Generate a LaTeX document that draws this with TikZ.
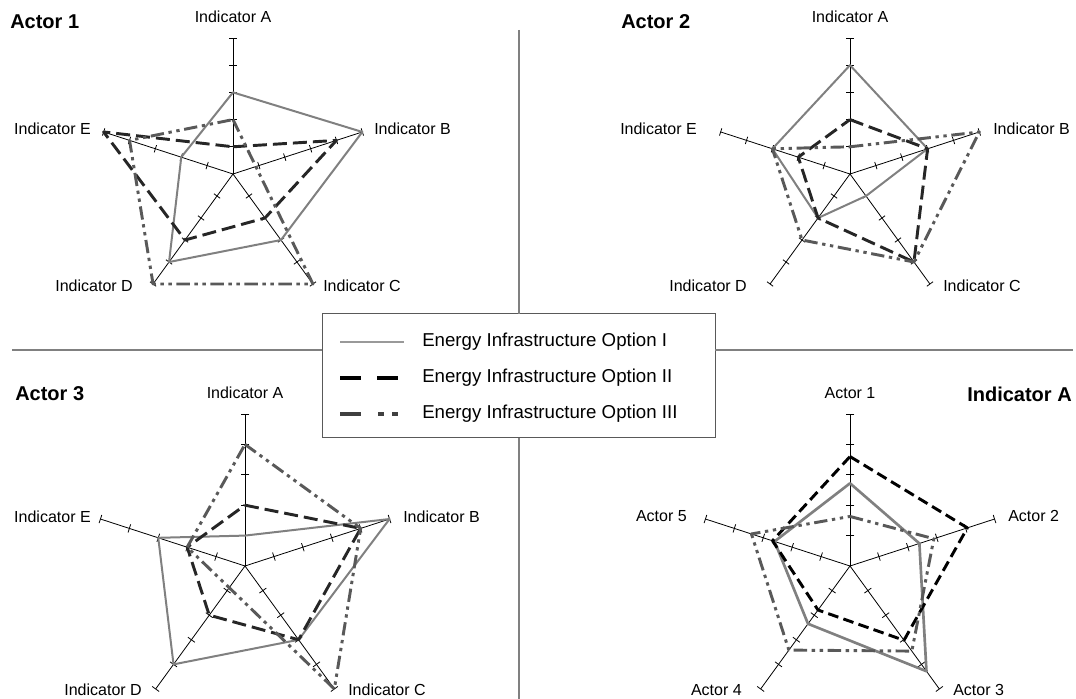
\documentclass[tikz,border=0pt]{standalone}
\usepackage{fontspec}
\setmainfont{Liberation Sans}
\tikzset{%
  % Specifications for style of lines and labels:
      axisLine/.style = {draw=black, line width=0.6pt},
      tickMark/.style = {draw=black, line width=0.6pt},
     optionOne/.style = {draw=black!50, line width=1.5pt, line join=round},
     optionTwo/.style = {draw=black!85, line width=2.2pt, line join=round,
                         dash pattern=on 10.5pt off 4.5pt},
   optionThree/.style = {draw=black!65, line width=2.2pt, line join=round,
                         dash pattern=on 10pt off 3.5pt on 2.5pt off 3.5pt on 2.5pt off 3.5pt},
     axisLabel/.style = {inner sep=0pt, font=\fontsize{12}{14}\selectfont},
    chartTitle/.style = {inner sep=0pt, anchor=west, font=\bfseries\fontsize{15}{18}\selectfont},
       sepLine/.style = {draw=black!50, line width=1.5pt},
     legendBox/.style = {rectangle, draw=black!65, fill=white, line width=0.75pt,
                         inner sep=0pt, outer sep=0pt,
                         minimum width=294.75pt, minimum height=93pt},
    legendText/.style = {inner sep=0pt, anchor=west, font=\fontsize{14}{17}\selectfont},
        legOne/.style = {draw=black!40, line width=2pt},
        legTwo/.style = {draw=black, line width=3pt, dash pattern=on 15.75pt off 12pt},
      legThree/.style = {draw=black!75, line width=3pt,
                         dash pattern=on 15.75pt off 12.75pt on 4.5pt off 6pt on 4.5pt off 6pt},
}

% axes and ticks of one radar chart, in units of one tick
\newcommand{\radarFrame}{%
  \foreach \ang in {90,18,-54,-126,162}{%
    \draw[axisLine] (0,0) -- (\ang:5);
    \foreach \k in {1,...,5}
      \draw[tickMark, shift={(\ang:\k)}, rotate=\ang] (0,-0.14) -- (0,0.14);
  }%
}

\begin{document}
\begin{tikzpicture}[x=0.75pt, y=0.75pt]
\useasboundingbox (0,0) rectangle (1076,699);

% Actor 1
\begin{scope}[shift={(233,525)}, scale=27.2]
  \radarFrame
  \draw[optionOne]   (90:3) -- (18:5) -- (-54:3) -- (-126:4) -- (162:2) -- cycle;
  \draw[optionTwo]   (90:1) -- (18:4) -- (-54:2) -- (-126:3) -- (162:5) -- cycle;
  \draw[optionThree] (90:2) -- (-54:5) -- (-126:5) -- (162:4) -- cycle;
\end{scope}
\node (titleOne) at (10,677)  [chartTitle] {Actor 1};
\node (labOneA)  at (233,682) [axisLabel] {Indicator A};
\node (labOneB)  at (374,570) [axisLabel, anchor=west] {Indicator B};
\node (labOneC)  at (323,413) [axisLabel, anchor=west] {Indicator C};
\node (labOneD)  at (133,413) [axisLabel, anchor=east] {Indicator D};
\node (labOneE)  at (91,570)  [axisLabel, anchor=east] {Indicator E};

% Actor 2
\begin{scope}[shift={(850,525)}, scale=27.2]
  \radarFrame
  \draw[optionOne]   (90:4) -- (18:3) -- (-54:1) -- (-126:2) -- (162:3) -- cycle;
  \draw[optionTwo]   (90:2) -- (18:3) -- (-54:4) -- (-126:2) -- (162:2) -- cycle;
  \draw[optionThree] (90:1) -- (18:5) -- (-54:4) -- (-126:3) -- (162:3) -- cycle;
\end{scope}
\node (titleTwo) at (621,677) [chartTitle] {Actor 2};
\node (labTwoA)  at (850,682) [axisLabel] {Indicator A};
\node (labTwoB)  at (993,570) [axisLabel, anchor=west] {Indicator B};
\node (labTwoC)  at (943,413) [axisLabel, anchor=west] {Indicator C};
\node (labTwoD)  at (747,413) [axisLabel, anchor=east] {Indicator D};
\node (labTwoE)  at (697,570) [axisLabel, anchor=east] {Indicator E};

% Actor 3
\begin{scope}[shift={(245,133)}, scale=30.4]
  \radarFrame
  \draw[optionOne]   (90:1) -- (18:5) -- (-54:3) -- (-126:4) -- (162:3) -- cycle;
  \draw[optionTwo]   (90:2) -- (18:4) -- (-54:3) -- (-126:2) -- (162:2) -- cycle;
  \draw[optionThree] (90:4) -- (18:4) -- (-54:5) -- (162:2) -- cycle;
\end{scope}
\node (titleThree) at (15,305)  [chartTitle] {Actor 3};
\node (labThreeA)  at (245,306) [axisLabel] {Indicator A};
\node (labThreeB)  at (403,182) [axisLabel, anchor=west] {Indicator B};
\node (labThreeC)  at (348,9)   [axisLabel, anchor=west] {Indicator C};
\node (labThreeD)  at (142,9)   [axisLabel, anchor=east] {Indicator D};
\node (labThreeE)  at (91,182)  [axisLabel, anchor=east] {Indicator E};

% Indicator A
\begin{scope}[shift={(850,133)}, scale=30.4]
  \radarFrame
  \draw[optionOne, line width=2pt]
        (90:2.72) -- (18:2.40) -- (-54:4.28) -- (-126:2.35) -- (162:2.61) -- cycle;
  \draw[optionTwo, draw=black, dash pattern=on 8pt off 4pt]
        (90:3.60) -- (18:4.06) -- (-54:3.02) -- (-126:1.79) -- (162:2.68) -- cycle;
  \draw[optionThree]
        (90:1.63) -- (18:2.90) -- (-54:3.46) -- (-126:3.42) -- (162:3.41) -- cycle;
\end{scope}
\node (titleFour) at (1072,305) [chartTitle, anchor=east] {Indicator A};
\node (labFourA)  at (850,306)  [axisLabel] {Actor 1};
\node (labFourB)  at (1008,183) [axisLabel, anchor=west] {Actor 2};
\node (labFourC)  at (953,9)    [axisLabel, anchor=west] {Actor 3};
\node (labFourD)  at (742,9)    [axisLabel, anchor=east] {Actor 4};
\node (labFourE)  at (687,183)  [axisLabel, anchor=east] {Actor 5};

% separators and legend
\coordinate (sepTop)    at (519,669);
\coordinate (sepBottom) at (519,0);
\coordinate (sepLeft)   at (12,349);
\coordinate (sepRight)  at (1073,349);
\node (legend) at (518.5,323) [legendBox] {};
\draw[sepLine] (sepTop) -- (sepTop |- legend.north);
\draw[sepLine] (sepBottom |- legend.south) -- (sepBottom);
\draw[sepLine] (sepLeft) -- (sepLeft -| legend.west);
\draw[sepLine] (sepRight -| legend.east) -- (sepRight);

\draw[legOne]   (340,357) -- (404,357);
\draw[legTwo]   (340,321) -- (404,321);
\draw[legThree] (340,285) -- (404,285);
\node (legOneText)   at (422,357) [legendText] {Energy Infrastructure Option I};
\node (legTwoText)   at (422,321) [legendText] {Energy Infrastructure Option II};
\node (legThreeText) at (422,285) [legendText] {Energy Infrastructure Option III};
\end{tikzpicture}
\end{document}
